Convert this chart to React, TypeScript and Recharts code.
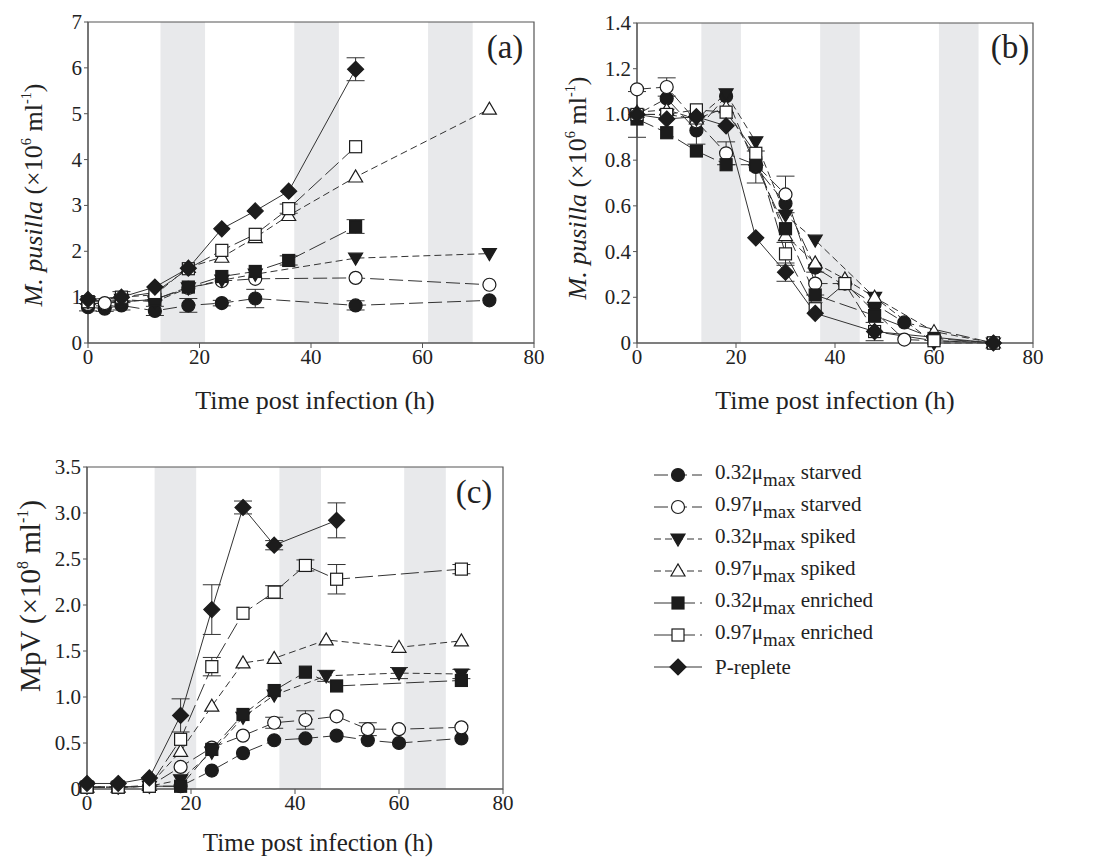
import React from 'react';
import {ErrorBar, Line, LineChart, ReferenceArea, XAxis, YAxis} from 'recharts';

// dark periods (h)
const darkBands = [[13, 21], [37, 45], [61, 69]];
const timeTicks = [0, 20, 40, 60, 80];

// panel (a) host abundance
const timesA = [0, 3, 6, 12, 18, 24, 30, 36, 48, 72];
const aSta32 = [0.78, 0.75, 0.82, 0.7, 0.82, 0.87, 0.97, null, 0.82, 0.93];
const aSta97 = [0.85, 0.87, null, 0.95, 1.2, 1.35, 1.4, null, 1.42, 1.27];
const aSp32 = [0.9, null, 0.95, 0.9, 1.2, 1.37, 1.5, null, 1.85, 1.95];
const aSp97 = [0.95, null, 1.0, 1.05, 1.65, 1.87, 2.3, 2.78, 3.62, 5.1];
const aEnr32 = [0.9, null, 0.9, 0.95, 1.22, 1.45, 1.56, 1.8, 2.54, null];
const aEnr97 = [0.9, null, 1.0, 1.1, 1.62, 2.02, 2.37, 2.93, 4.28, null];
const aPRep = [0.95, null, 1.0, 1.22, 1.63, 2.49, 2.88, 3.31, 5.97, null];
const aErrSta32 = [0.08, 0.06, 0.1, 0.1, 0.15, 0.06, 0.2, null, 0.1, null];
const aErrEnr32 = [null, null, null, null, null, null, null, 0.1, 0.15, null];
const aErrEnr97 = [null, null, 0.12, null, null, null, null, 0.1, null, null];
const aErrPRep = [null, null, null, null, null, null, null, null, 0.25, null];

// panel (b) host abundance
const timesB = [0, 6, 12, 18, 24, 30, 36, 42, 48, 54, 60, 72];
const bSta32 = [1.0, 1.07, 0.93, 1.08, 0.77, 0.61, 0.33, null, 0.17, 0.09, null, 0];
const bSta97 = [1.11, 1.12, 0.97, 0.83, 0.78, 0.65, 0.26, 0.26, null, 0.015, null, 0];
const bSp32 = [1.0, 1.0, 0.98, 1.09, 0.88, 0.56, 0.45, null, 0.2, null, 0.0, 0];
const bSp97 = [1.01, 1.02, 0.98, 1.03, 0.8, 0.47, 0.35, 0.28, 0.2, null, 0.05, 0];
const bEnr32 = [0.98, 0.92, 0.84, 0.78, 0.78, 0.5, 0.21, null, 0.12, null, 0.02, 0];
const bEnr97 = [1.0, 1.0, 1.02, 1.01, 0.83, 0.39, 0.15, 0.26, 0.05, null, 0.01, 0];
const bPRep = [1.0, 0.98, 0.99, 0.95, 0.46, 0.31, 0.13, null, 0.05, null, null, 0];
const bErrSta32 = [0.1, null, 0.06, null, 0.07, null, null, null, null, null, null, null];
const bErrSta97 = [null, 0.04, null, 0.05, null, 0.08, 0.05, null, null, null, null, null];
const bErrEnr97 = [null, null, null, null, null, 0.05, null, null, null, null, null, null];
const bErrPRep = [null, null, null, null, null, 0.04, null, null, 0.04, null, null, null];

// panel (c) virus abundance
const timesC = [0, 6, 12, 18, 24, 30, 36, 42, 46, 48, 54, 60, 72];
const cSta32 = [0.02, 0.02, 0.03, 0.03, 0.2, 0.39, 0.53, 0.55, null, 0.58, 0.53, 0.5, 0.55];
const cSta97 = [0.02, 0.02, 0.03, 0.24, 0.45, 0.58, 0.72, 0.75, null, 0.79, 0.65, 0.65, 0.67];
const cSp32 = [0.02, 0.02, 0.03, 0.1, 0.4, 0.78, 1.02, null, 1.23, null, null, 1.26, 1.25];
const cSp97 = [0.02, 0.02, 0.04, 0.41, 0.9, 1.37, 1.42, null, 1.62, null, null, 1.54, 1.61];
const cEnr32 = [0.02, 0.02, 0.03, 0.03, 0.43, 0.81, 1.07, 1.27, null, 1.12, null, null, 1.18];
const cEnr97 = [0.02, 0.02, 0.03, 0.54, 1.33, 1.91, 2.14, 2.43, null, 2.28, null, null, 2.39];
const cPRep = [0.06, 0.06, 0.12, 0.8, 1.95, 3.06, 2.65, null, null, 2.92, null, null, null];
const cErrSta97 = [null, null, null, null, null, null, 0.06, 0.1, null, null, 0.07, null, null];
const cErrSp32 = [null, null, null, null, null, null, null, null, 0.06, null, null, 0.06, 0.05];
const cErrEnr97 = [null, null, null, null, 0.1, null, 0.07, 0.06, null, 0.16, null, null, 0.05];
const cErrPRep = [null, null, null, 0.18, 0.27, 0.07, 0.05, null, null, 0.19, null, null, null];

const series = [
  {key: 'sta32', mu: '0.32', cond: 'starved', shape: 'circle', filled: true, dash: '14 5'},
  {key: 'sta97', mu: '0.97', cond: 'starved', shape: 'circle', filled: false, dash: '14 5'},
  {key: 'sp32', mu: '0.32', cond: 'spiked', shape: 'triDown', filled: true, dash: '7 4'},
  {key: 'sp97', mu: '0.97', cond: 'spiked', shape: 'triUp', filled: false, dash: '7 4'},
  {key: 'enr32', mu: '0.32', cond: 'enriched', shape: 'square', filled: true, dash: '18 5'},
  {key: 'enr97', mu: '0.97', cond: 'enriched', shape: 'square', filled: false, dash: '18 5'},
  {key: 'pRep', mu: '', cond: 'P-replete', shape: 'diamond', filled: true, dash: undefined},
];

const buildRows = (times: number[], vals: Record<string, any[]>, errs: Record<string, any[]>) =>
  times.map((t, i) => {
    const row: any = {t};
    Object.keys(vals).forEach((k) => {
      row[k] = vals[k][i];
      row[k + 'Err'] = errs[k] ? errs[k][i] : null;
    });
    return row;
  });

const rowsA = buildRows(timesA,
  {sta32: aSta32, sta97: aSta97, sp32: aSp32, sp97: aSp97, enr32: aEnr32, enr97: aEnr97, pRep: aPRep},
  {sta32: aErrSta32, enr32: aErrEnr32, enr97: aErrEnr97, pRep: aErrPRep});
const rowsB = buildRows(timesB,
  {sta32: bSta32, sta97: bSta97, sp32: bSp32, sp97: bSp97, enr32: bEnr32, enr97: bEnr97, pRep: bPRep},
  {sta32: bErrSta32, sta97: bErrSta97, enr97: bErrEnr97, pRep: bErrPRep});
const rowsC = buildRows(timesC,
  {sta32: cSta32, sta97: cSta97, sp32: cSp32, sp97: cSp97, enr32: cEnr32, enr97: cEnr97, pRep: cPRep},
  {sta97: cErrSta97, sp32: cErrSp32, enr97: cErrEnr97, pRep: cErrPRep});

const INK = '#1c1c1c';
const AXIS = '#555';
const SERIF = '"Liberation Serif", "DejaVu Serif", serif';

const Marker = ({shape, filled, cx, cy}: any) => {
  const p = {fill: filled ? INK : '#fff', stroke: INK, strokeWidth: 1.2};
  if (shape === 'circle') return <circle cx={cx} cy={cy} r={6.5} {...p} />;
  if (shape === 'square') return <rect x={cx - 6} y={cy - 6} width={12} height={12} {...p} />;
  if (shape === 'triDown')
    return <polygon points={`${cx - 7},${cy - 5} ${cx + 7},${cy - 5} ${cx},${cy + 7}`} {...p} />;
  if (shape === 'triUp')
    return <polygon points={`${cx - 7},${cy + 5} ${cx + 7},${cy + 5} ${cx},${cy - 7}`} {...p} />;
  return <polygon points={`${cx},${cy - 8} ${cx + 8},${cy} ${cx},${cy + 8} ${cx - 8},${cy}`} {...p} />;
};

const AxisTick = ({x, y, payload, fmt, horiz}: any) => (
  <text x={x} y={y} dy={horiz ? 15 : 7} textAnchor={horiz ? 'middle' : 'end'}
        style={{fontFamily: SERIF, fontSize: 21, fill: '#222'}}>
    {fmt(payload.value)}
  </text>
);

function Panel({rows, yMax, yTicks, fmt, box}: any) {
  const {left, top, width, height, yw, mt, mr, mb} = box;
  return (
    <div style={{position: 'absolute', left, top}}>
      <LineChart width={width} height={height} data={rows}
                 margin={{top: mt, right: mr, left: 0, bottom: mb}}>
        <XAxis dataKey="t" type="number" domain={[0, 80]} ticks={timeTicks} height={30}
               stroke={AXIS} tickSize={5} tickMargin={1}
               tick={<AxisTick horiz fmt={(v: number) => String(v)} />} />
        <YAxis type="number" domain={[0, yMax]} ticks={yTicks} width={yw} stroke={AXIS}
               tickSize={4} tickMargin={2} tick={<AxisTick fmt={fmt} />} />
        {darkBands.map(([x1, x2]) => (
          <ReferenceArea key={x1} x1={x1} x2={x2} fill="#e8e9eb" fillOpacity={1} stroke="none" />
        ))}
        <ReferenceArea x1={0} x2={80} y1={0} y2={yMax} fill="none" stroke={AXIS} strokeWidth={1.2} />
        {series.map((s) => (
          <Line key={s.key} dataKey={s.key} type="linear" stroke="#333" strokeWidth={1}
                strokeDasharray={s.dash} connectNulls isAnimationActive={false}
                dot={(props: any) =>
                  props.cy == null ? <g key={props.index} /> :
                    <Marker key={props.index} shape={s.shape} filled={s.filled} cx={props.cx} cy={props.cy} />}
                activeDot={false}>
            <ErrorBar dataKey={s.key + 'Err'} width={9} stroke="#333" strokeWidth={1} direction="y" />
          </Line>
        ))}
      </LineChart>
    </div>
  );
}

const Abs = ({x, y, children, size = 22, rotate = false}: any) => (
  <div style={{
    position: 'absolute', left: x, top: y, whiteSpace: 'nowrap', fontSize: size, color: '#222',
    transform: `translate(-50%, -50%)${rotate ? ' rotate(-90deg)' : ''}`, lineHeight: 1,
  }}>{children}</div>
);

const sup = {fontSize: '0.55em', verticalAlign: '0.75em'};

const LegendSymbol = ({s}: any) => (
  <svg width={52} height={20} style={{display: 'block'}}>
    <line x1={2} y1={10} x2={50} y2={10} stroke="#333" strokeWidth={1} strokeDasharray={s.dash} />
    <Marker shape={s.shape} filled={s.filled} cx={26} cy={10} />
  </svg>
);

export default function App() {
  const fmt1 = (v: number) => (v === 0 ? '0' : v.toFixed(1));
  return (
    <div style={{position: 'absolute', left: 0, top: 0, width: 1109, height: 858, background: '#fff', fontFamily: SERIF}}>
      <Panel rows={rowsA} yMax={7} yTicks={[0, 1, 2, 3, 4, 5, 6, 7]} fmt={(v: number) => String(v)}
             box={{left: 0, top: 0, width: 560, height: 400, yw: 88, mt: 22, mr: 26, mb: 27}} />
      <Panel rows={rowsB} yMax={1.4} yTicks={[0, 0.2, 0.4, 0.6, 0.8, 1.0, 1.2, 1.4]} fmt={fmt1}
             box={{left: 540, top: 0, width: 569, height: 400, yw: 97, mt: 23, mr: 76, mb: 27}} />
      <Panel rows={rowsC} yMax={3.5} yTicks={[0, 0.5, 1.0, 1.5, 2.0, 2.5, 3.0, 3.5]} fmt={fmt1}
             box={{left: 0, top: 440, width: 540, height: 400, yw: 87, mt: 27, mr: 37, mb: 21}} />

      <Abs x={505} y={47} size={33}>(a)</Abs>
      <Abs x={1010} y={47} size={33}>(b)</Abs>
      <Abs x={474} y={492} size={33}>(c)</Abs>

      <Abs x={315} y={401} size={26}>Time post infection (h)</Abs>
      <Abs x={835} y={401} size={26}>Time post infection (h)</Abs>
      <Abs x={318} y={842} size={25}>Time post infection (h)</Abs>

      <Abs x={33} y={195} size={26} rotate><i>M. pusilla</i> (×10<span style={sup}>6</span> ml<span style={sup}>-1</span>)</Abs>
      <Abs x={577} y={188} size={26} rotate><i>M. pusilla</i> (×10<span style={sup}>6</span> ml<span style={sup}>-1</span>)</Abs>
      <Abs x={30} y={596} size={29} rotate>MpV (×10<span style={sup}>8</span> ml<span style={sup}>-1</span>)</Abs>

      <div style={{position: 'absolute', left: 652, top: 459}}>
        {series.map((s) => (
          <div key={s.key} style={{display: 'flex', alignItems: 'center', height: 32, fontSize: 21, color: '#222'}}>
            <LegendSymbol s={s} />
            <span style={{marginLeft: 11, whiteSpace: 'nowrap'}}>
              {s.mu ? <>{s.mu}μ<sub style={{fontSize: '0.9em', verticalAlign: '-0.35em'}}>max</sub> {s.cond}</> : s.cond}
            </span>
          </div>
        ))}
      </div>
    </div>
  );
}
